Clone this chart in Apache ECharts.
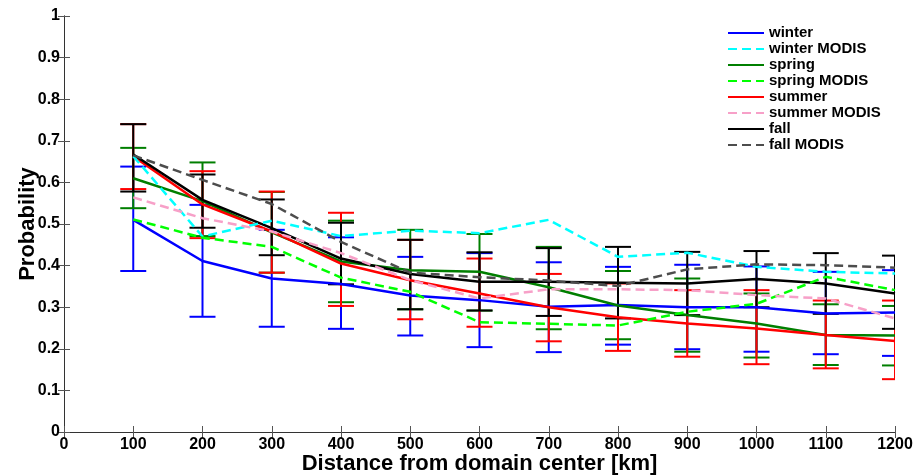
<!DOCTYPE html>
<html>
<head>
<meta charset="utf-8">
<script src="https://cdn.jsdelivr.net/npm/echarts@6/dist/echarts.min.js"></script>
<style>
  html, body { margin: 0; padding: 0; background: #fff; }
  #main { width: 915px; height: 475px; }
</style>
</head>
<body>
<div id="main"></div>
<script>
// distances [km]
var distances = [100, 200, 300, 400, 500, 600, 700, 800, 900, 1000, 1100, 1200];

var winterMean  = [0.510, 0.411, 0.369, 0.356, 0.328, 0.317, 0.301, 0.305, 0.300, 0.300, 0.285, 0.287];
var winterLow   = [0.387, 0.277, 0.253, 0.248, 0.232, 0.204, 0.192, 0.210, 0.199, 0.193, 0.187, 0.183];
var winterHigh  = [0.638, 0.546, 0.486, 0.468, 0.421, 0.430, 0.408, 0.397, 0.402, 0.398, 0.385, 0.389];
var winterModis = [0.663, 0.470, 0.508, 0.471, 0.484, 0.478, 0.510, 0.421, 0.431, 0.397, 0.385, 0.381];

var springMean  = [0.610, 0.555, 0.480, 0.410, 0.389, 0.385, 0.348, 0.304, 0.281, 0.261, 0.233, 0.232];
var springLow   = [0.538, 0.471, 0.383, 0.312, 0.295, 0.292, 0.247, 0.223, 0.193, 0.179, 0.161, 0.160];
var springHigh  = [0.683, 0.648, 0.577, 0.508, 0.486, 0.476, 0.445, 0.387, 0.369, 0.333, 0.307, 0.303];
var springModis = [0.511, 0.467, 0.445, 0.371, 0.337, 0.264, 0.260, 0.256, 0.289, 0.308, 0.373, 0.341];

var summerMean  = [0.663, 0.547, 0.482, 0.405, 0.365, 0.333, 0.300, 0.276, 0.261, 0.249, 0.233, 0.219];
var summerLow   = [0.584, 0.466, 0.383, 0.303, 0.271, 0.253, 0.218, 0.195, 0.181, 0.163, 0.153, 0.127];
var summerHigh  = [0.740, 0.627, 0.578, 0.527, 0.462, 0.417, 0.380, 0.357, 0.341, 0.341, 0.316, 0.316];
var summerModis = [0.564, 0.514, 0.482, 0.430, 0.365, 0.321, 0.343, 0.343, 0.341, 0.329, 0.321, 0.273];

var fallMean  = [0.667, 0.558, 0.490, 0.417, 0.380, 0.361, 0.361, 0.359, 0.357, 0.368, 0.357, 0.333];
var fallLow   = [0.578, 0.491, 0.425, 0.355, 0.295, 0.292, 0.279, 0.273, 0.281, 0.300, 0.284, 0.248];
var fallHigh  = [0.740, 0.619, 0.559, 0.503, 0.462, 0.432, 0.442, 0.445, 0.433, 0.435, 0.430, 0.424];
var fallModis = [0.665, 0.606, 0.548, 0.457, 0.383, 0.372, 0.364, 0.351, 0.391, 0.403, 0.401, 0.395];

var FONT = 'Liberation Sans, Arial, sans-serif';

function pairs(ys) {
	var out = [];
	for (var i = 0; i < distances.length; i++) {
		out.push([distances[i], ys[i]]);
	}
	return out;
}

function errTriples(low, high) {
	var out = [];
	for (var i = 0; i < distances.length; i++) {
		out.push([distances[i], low[i], high[i]]);
	}
	return out;
}

function errorBarItem(params, api) {
	var x = api.value(0);
	var lo = api.coord([x, api.value(1)]);
	var hi = api.coord([x, api.value(2)]);
	var half = 13;
	var style = { stroke: api.visual('color'), lineWidth: 2 };
	return {
		type: 'group',
		children: [
			{ type: 'line', shape: { x1: hi[0], y1: hi[1], x2: lo[0], y2: lo[1] }, style: style },
			{ type: 'line', shape: { x1: hi[0] - half, y1: hi[1], x2: hi[0] + half, y2: hi[1] }, style: style },
			{ type: 'line', shape: { x1: lo[0] - half, y1: lo[1], x2: lo[0] + half, y2: lo[1] }, style: style }
		]
	};
}

function errSeries(name, color, low, high) {
	return {
		name: name,
		type: 'custom',
		renderItem: errorBarItem,
		clip: true,
		itemStyle: { color: color },
		encode: { x: 0, y: [1, 2] },
		data: errTriples(low, high),
		silent: true,
		z: 2
	};
}

function lineSeries(name, color, ys, dashed) {
	return {
		name: name,
		type: 'line',
		data: pairs(ys),
		symbol: 'none',
		clip: true,
		lineStyle: { color: color, width: 2.5, type: dashed ? [9, 5] : 'solid' },
		itemStyle: { color: color },
		z: dashed ? 4 : 3
	};
}

var legendNames = ['winter', 'winter MODIS', 'spring', 'spring MODIS',
	'summer', 'summer MODIS', 'fall', 'fall MODIS'];

function plainNum(v) { return String(v); }

var myChart = echarts.init(document.getElementById('main'));

var option = {
	backgroundColor: '#fff',
	animation: false,
	legend: {
		data: legendNames,
		orient: 'vertical',
		left: 722,
		top: 20,
		itemWidth: 36,
		itemHeight: 16,
		itemGap: 0,
		selectedMode: false,
		itemStyle: { opacity: 0 },
		textStyle: { fontFamily: FONT, fontWeight: 'bold', fontSize: 15, color: '#000', lineHeight: 16 }
	},
	grid: { left: 64, top: 16, width: 831, height: 416, show: false, containLabel: false, outerBoundsMode: 'none' },
	xAxis: [{
		type: 'value', min: 0, max: 1200, interval: 100,
		name: 'Distance from domain center [km]',
		nameLocation: 'middle', nameGap: 21, nameMoveOverlap: false,
		nameTextStyle: { fontFamily: FONT, fontWeight: 'bold', fontSize: 22, color: '#000' },
		axisLine: { show: true, lineStyle: { color: '#333', width: 1 } },
		axisTick: { show: true, inside: true, length: 6, lineStyle: { color: '#555' } },
		axisLabel: { margin: 5, formatter: plainNum, fontFamily: FONT, fontWeight: 'bold', fontSize: 16, color: '#000' },
		splitLine: { show: false }
	}, {
		type: 'value', min: 0, max: 1200, interval: 100, position: 'top',
		axisLine: { show: true, lineStyle: { color: '#333', width: 1 } },
		axisTick: { show: true, inside: true, length: 6, lineStyle: { color: '#555' } },
		axisLabel: { show: false },
		splitLine: { show: false }
	}],
	yAxis: [{
		type: 'value', min: 0, max: 1, interval: 0.1,
		name: 'Probability',
		nameLocation: 'middle', nameGap: 25, nameRotate: 90, nameMoveOverlap: false,
		nameTextStyle: { fontFamily: FONT, fontWeight: 'bold', fontSize: 22, color: '#000' },
		axisLine: { show: true, lineStyle: { color: '#333', width: 1 } },
		axisTick: { show: true, inside: true, length: 6, lineStyle: { color: '#555' } },
		axisLabel: { margin: 4, formatter: plainNum, fontFamily: FONT, fontWeight: 'bold', fontSize: 16, color: '#000' },
		splitLine: { show: false }
	}, {
		type: 'value', min: 0, max: 1, interval: 0.1, position: 'right',
		axisLine: { show: true, lineStyle: { color: '#333', width: 1 } },
		axisTick: { show: true, inside: true, length: 6, lineStyle: { color: '#555' } },
		axisLabel: { show: false },
		splitLine: { show: false }
	}],
	series: [
		errSeries('winter err', '#0000ff', winterLow, winterHigh),
		errSeries('spring err', '#007f00', springLow, springHigh),
		errSeries('summer err', '#ff0000', summerLow, summerHigh),
		errSeries('fall err', '#000000', fallLow, fallHigh),
		lineSeries('winter', '#0000ff', winterMean, false),
		lineSeries('winter MODIS', '#00ffff', winterModis, true),
		lineSeries('spring', '#007f00', springMean, false),
		lineSeries('spring MODIS', '#00ff00', springModis, true),
		lineSeries('summer', '#ff0000', summerMean, false),
		lineSeries('summer MODIS', '#f7a0c8', summerModis, true),
		lineSeries('fall', '#000000', fallMean, false),
		lineSeries('fall MODIS', '#4d4d4d', fallModis, true)
	]
};

myChart.setOption(option);
</script>
</body>
</html>
